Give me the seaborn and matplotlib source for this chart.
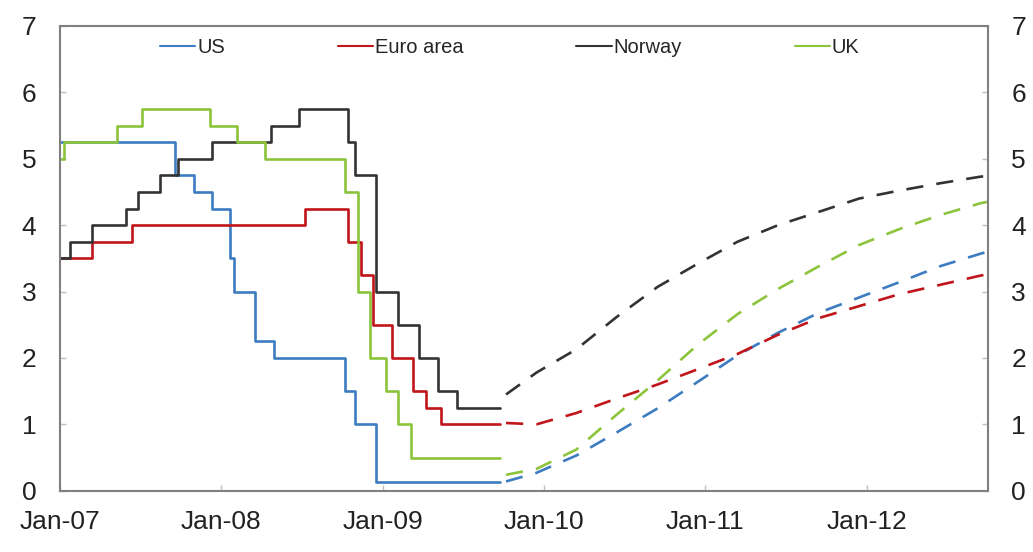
import pandas as pd
import seaborn as sns
import matplotlib.pyplot as plt
import matplotlib.dates as mdates

# policy rates (step series)
us_dates = ['2007-01-01', '2007-09-18', '2007-10-31', '2007-12-11', '2008-01-22', '2008-01-30',
            '2008-03-18', '2008-04-30', '2008-10-08', '2008-10-29', '2008-12-16', '2009-09-23']
us_rate = [5.25, 4.75, 4.5, 4.25, 3.5, 3.0, 2.25, 2.0, 1.5, 1.0, 0.125, 0.125]

euro_dates = ['2007-01-01', '2007-03-14', '2007-06-13', '2008-07-09', '2008-10-15', '2008-11-12',
              '2008-12-10', '2009-01-21', '2009-03-11', '2009-04-08', '2009-05-13', '2009-09-23']
euro_rate = [3.5, 3.75, 4.0, 4.25, 3.75, 3.25, 2.5, 2.0, 1.5, 1.25, 1.0, 1.0]

nor_dates = ['2007-01-01', '2007-01-24', '2007-03-14', '2007-05-30', '2007-06-27', '2007-08-15',
             '2007-09-26', '2007-12-12', '2008-04-23', '2008-06-25', '2008-10-15', '2008-10-29',
             '2008-12-17', '2009-02-04', '2009-03-25', '2009-05-06', '2009-06-17', '2009-09-23']
nor_rate = [3.5, 3.75, 4.0, 4.25, 4.5, 4.75, 5.0, 5.25, 5.5, 5.75, 5.25, 4.75,
            3.0, 2.5, 2.0, 1.5, 1.25, 1.25]

uk_dates = ['2007-01-01', '2007-01-11', '2007-05-10', '2007-07-05', '2007-12-06', '2008-02-07',
            '2008-04-10', '2008-10-08', '2008-11-06', '2008-12-04', '2009-01-08', '2009-02-05',
            '2009-03-05', '2009-09-23']
uk_rate = [5.0, 5.25, 5.5, 5.75, 5.5, 5.25, 5.0, 4.5, 3.0, 2.0, 1.5, 1.0, 0.5, 0.5]

# market expectations (dashed)
fwd_dates = ['2009-10-07', '2009-12-15', '2010-03-15', '2010-06-15', '2010-09-15', '2010-12-15',
             '2011-03-15', '2011-06-15', '2011-09-15', '2011-12-15', '2012-03-15', '2012-06-15',
             '2012-09-15', '2012-10-01']
us_fwd = [0.14, 0.27, 0.53, 0.88, 1.24, 1.64, 2.04, 2.38, 2.68, 2.91, 3.14, 3.38, 3.57, 3.60]
euro_fwd = [1.02, 1.0, 1.17, 1.39, 1.6, 1.83, 2.06, 2.35, 2.6, 2.78, 2.96, 3.1, 3.24, 3.26]
nor_fwd = [1.45, 1.78, 2.13, 2.62, 3.07, 3.42, 3.75, 4.0, 4.2, 4.4, 4.52, 4.63, 4.73, 4.74]
uk_fwd = [0.24, 0.33, 0.62, 1.15, 1.66, 2.2, 2.66, 3.04, 3.38, 3.7, 3.94, 4.15, 4.33, 4.35]

countries = ['US', 'Euro area', 'Norway', 'UK']
colors = {'US': '#3d7cc0', 'Euro area': '#c0161b', 'Norway': '#333333', 'UK': '#8cc43c'}

hist = pd.concat([
    pd.DataFrame({'date': pd.to_datetime(d), 'rate': r, 'country': c})
    for c, d, r in zip(countries, [us_dates, euro_dates, nor_dates, uk_dates],
                       [us_rate, euro_rate, nor_rate, uk_rate])
])
fwd = pd.concat([
    pd.DataFrame({'date': pd.to_datetime(fwd_dates), 'rate': r, 'country': c})
    for c, r in zip(countries, [us_fwd, euro_fwd, nor_fwd, uk_fwd])
])

sns.set_theme(style='white')
plt.rcParams['font.family'] = ['Liberation Sans', 'DejaVu Sans']

fig = plt.figure(figsize=(10.33, 5.52), dpi=100)
ax = fig.add_axes([0.058, 0.111, 0.898, 0.842])

sns.lineplot(data=hist, x='date', y='rate', hue='country', hue_order=countries,
             palette=colors, drawstyle='steps-post', linewidth=1.9, ax=ax)
sns.lineplot(data=fwd, x='date', y='rate', hue='country', hue_order=countries,
             palette=colors, linestyle=(0, (6.5, 5)), linewidth=1.9, legend=False, ax=ax)

ax.set_xlim(pd.Timestamp('2007-01-01'), pd.Timestamp('2012-10-01'))
ax.set_ylim(0, 7)
ax.set_yticks(range(0, 8))
ax.xaxis.set_major_locator(mdates.YearLocator())
ax.xaxis.set_major_formatter(mdates.DateFormatter('%b-%y'))
ax.set_xlabel('')
ax.set_ylabel('')

for s in ax.spines.values():
    s.set_color('#808080')
    s.set_linewidth(1.5)

ax.tick_params(axis='both', direction='in', length=4, width=1, color='#c0c0c0',
               labelsize=19, labelcolor='#222222')
ax.tick_params(axis='y', left=True, right=True, labelright=True, pad=17)
ax.tick_params(axis='x', bottom=True, pad=14)

leg = ax.legend(loc='center', bbox_to_anchor=(0.485, 0.953), ncol=4, frameon=False,
                fontsize=14.5, handlelength=1.75, handletextpad=0.1, columnspacing=5.6)
for line in leg.get_lines():
    line.set_linewidth(1.5)

fig.savefig('out.png', dpi=100)
